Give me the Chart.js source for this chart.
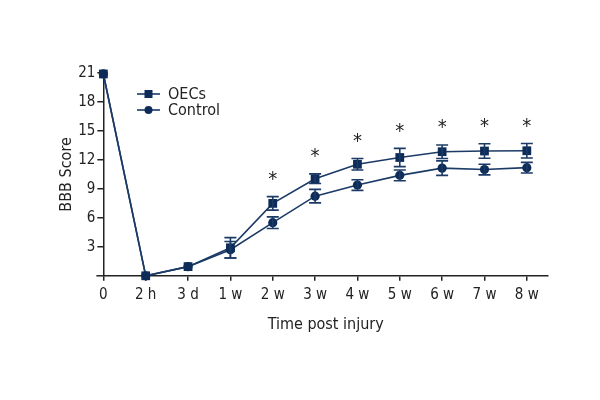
<!DOCTYPE html>
<html>
<head>
<meta charset="utf-8">
<script src="https://cdn.jsdelivr.net/npm/chart.js@4/dist/chart.umd.min.js"></script>
<style>
html,body{margin:0;padding:0;background:#fff;}
#wrap{width:600px;height:400px;}
</style>
</head>
<body>
<div id="wrap"><canvas id="c" width="600" height="400"></canvas></div>
<script>
const categories = ['0','2 h','3 d','1 w','2 w','3 w','4 w','5 w','6 w','7 w','8 w'];
const oecsMean = [20.9, 0, 0.95, 2.9, 7.5, 10.05, 11.55, 12.25, 12.85, 12.92, 12.95];
const oecsErr  = [0, 0, 0.1, 1.05, 0.7, 0.5, 0.6, 0.95, 0.7, 0.75, 0.75];
const ctrlMean = [20.9, 0, 0.95, 2.7, 5.5, 8.25, 9.4, 10.4, 11.15, 11.0, 11.2];
const ctrlErr  = [0, 0, 0.1, 0.85, 0.6, 0.7, 0.55, 0.55, 0.75, 0.55, 0.55];
const significant = [false,false,false,false,true,true,true,true,true,true,true];
const yTicks = [3, 6, 9, 12, 15, 18, 21];

const FONT = "'Liberation Sans Narrow', 'DejaVu Sans Condensed', 'Roboto Condensed', sans-serif";
const NAVY = '#1b3a66';
const MARK = '#0e2c58';
const AXIS = '#222222';

const toXY = arr => arr.map((v, i) => ({x: i, y: v}));

const extras = {
  id: 'extras',
  afterDatasetsDraw(chart) {
    const ctx = chart.ctx;
    const xs = chart.scales.x, ys = chart.scales.y;
    ctx.save();
    const drawErr = (mean, err) => {
      ctx.strokeStyle = NAVY;
      ctx.lineWidth = 1.6;
      mean.forEach((m, i) => {
        const e = err[i];
        if (!e || e < 0.2) return;
        const x = xs.getPixelForValue(i);
        const yt = ys.getPixelForValue(m + e);
        const yb = ys.getPixelForValue(m - e);
        ctx.beginPath();
        ctx.moveTo(x, yt); ctx.lineTo(x, yb);
        ctx.moveTo(x - 6, yt); ctx.lineTo(x + 6, yt);
        ctx.moveTo(x - 6, yb); ctx.lineTo(x + 6, yb);
        ctx.stroke();
      });
    };
    drawErr(oecsMean, oecsErr);
    drawErr(ctrlMean, ctrlErr);
    ctx.fillStyle = '#222';
    ctx.font = "20px " + FONT;
    ctx.textAlign = 'center';
    ctx.textBaseline = 'middle';
    significant.forEach((s, i) => {
      if (!s) return;
      const x = xs.getPixelForValue(i);
      const y = ys.getPixelForValue(oecsMean[i] + oecsErr[i]) - 17;
      ctx.fillText('*', x, y);
    });
    const ay = ys.getPixelForValue(0);
    ctx.strokeStyle = AXIS;
    ctx.lineWidth = 1.5;
    ctx.beginPath();
    ctx.moveTo(chart.chartArea.left - 7, ay);
    ctx.lineTo(chart.chartArea.left, ay);
    ctx.stroke();
    const items = [
      {label: 'OECs', style: 'rect'},
      {label: 'Control', style: 'circle'}
    ];
    const lx = 137, ly0 = 94;
    ctx.font = "16px " + FONT;
    ctx.textAlign = 'left';
    items.forEach((it, k) => {
      const y = ly0 + k * 16;
      ctx.strokeStyle = NAVY;
      ctx.lineWidth = 1.6;
      ctx.beginPath();
      ctx.moveTo(lx, y); ctx.lineTo(lx + 23, y);
      ctx.stroke();
      ctx.fillStyle = MARK;
      if (it.style === 'rect') {
        ctx.fillRect(lx + 11.5 - 4, y - 4, 8, 8);
      } else {
        ctx.beginPath(); ctx.arc(lx + 11.5, y, 4, 0, Math.PI * 2); ctx.fill();
      }
      ctx.fillStyle = '#222';
      ctx.fillText(it.label, lx + 31, y + 1);
    });
    ctx.restore();
  }
};

new Chart(document.getElementById('c'), {
  type: 'line',
  data: {
    datasets: [
      {label: 'OECs', data: toXY(oecsMean), borderColor: NAVY, backgroundColor: MARK,
       pointStyle: 'rect', pointRadius: 6.2, pointBorderWidth: 0, borderWidth: 1.6, clip: false, tension: 0},
      {label: 'Control', data: toXY(ctrlMean), borderColor: NAVY, backgroundColor: MARK,
       pointStyle: 'circle', pointRadius: 4.6, pointBorderWidth: 0, borderWidth: 1.6, clip: false, tension: 0}
    ]
  },
  options: {
    responsive: false,
    animation: false,
    devicePixelRatio: 1,
    layout: {padding: {left: 57, right: 52, top: 73, bottom: 62}},
    plugins: {legend: {display: false}, tooltip: {enabled: false}},
    scales: {
      x: {
        type: 'linear', min: 0, max: 10.5,
        afterBuildTicks: s => { s.ticks = categories.map((c, i) => ({value: i})); },
        ticks: {callback: v => categories[v] ?? '', color: '#222', font: {family: FONT, size: 15}, padding: 5, maxRotation: 0, autoSkip: false},
        grid: {drawOnChartArea: false, drawTicks: true, tickLength: 5, color: AXIS, lineWidth: 1.5},
        border: {display: true, color: AXIS, width: 1.5},
        title: {display: true, text: 'Time post injury', color: '#222', font: {family: FONT, size: 16}, padding: {top: 6}}
      },
      y: {
        min: 0, max: 21,
        afterBuildTicks: s => { s.ticks = yTicks.map(v => ({value: v})); },
        ticks: {color: '#222', font: {family: FONT, size: 15}, padding: 2},
        grid: {drawOnChartArea: false, drawTicks: true, tickLength: 6, color: AXIS, lineWidth: 1.5},
        border: {display: true, color: AXIS, width: 1.5},
        title: {display: true, text: 'BBB Score', color: '#222', font: {family: FONT, size: 16}, padding: {top: 0, bottom: 0}}
      }
    }
  },
  plugins: [extras]
});
</script>
</body>
</html>
